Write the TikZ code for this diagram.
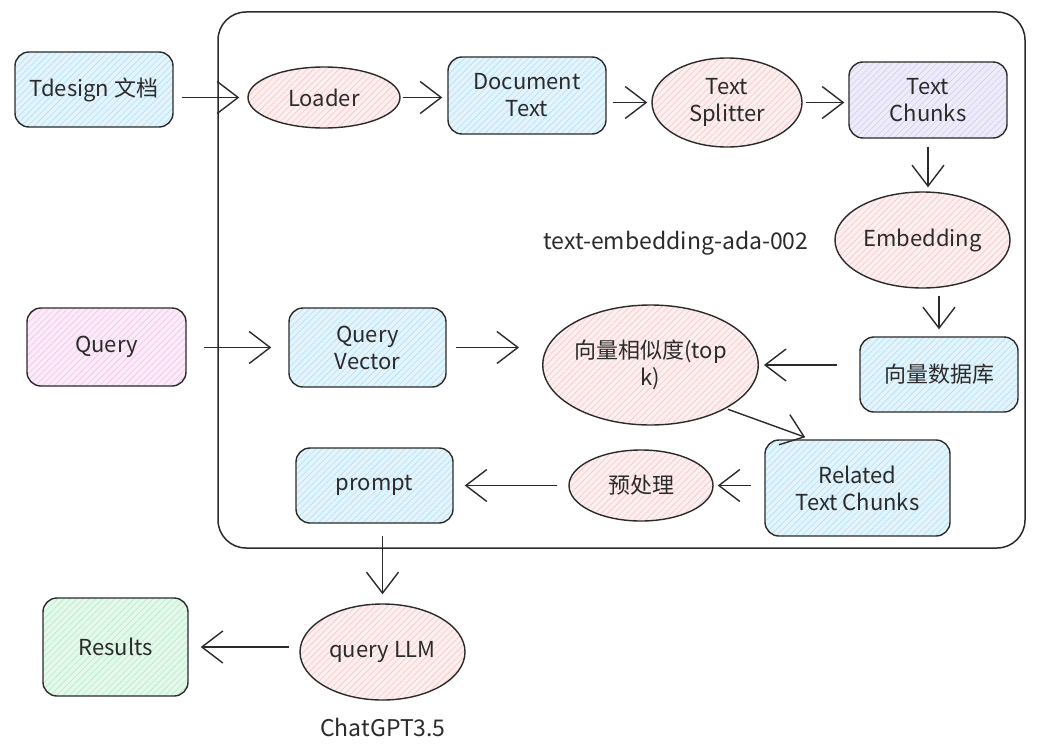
\documentclass[tikz,border=0pt]{standalone}
\usepackage{fontspec}
\setmainfont{Noto Sans CJK SC}
\usetikzlibrary{arrows.meta,shapes.geometric,patterns.meta,calc}
\definecolor{ink}{HTML}{2B2B2B}
\definecolor{bluef}{HTML}{E4F4FC}\definecolor{blueh}{HTML}{B3DFF4}
\definecolor{pinkf}{HTML}{FDEFEF}\definecolor{pinkh}{HTML}{F6C8C8}
\definecolor{purpf}{HTML}{EFECFA}\definecolor{purph}{HTML}{D3CBF2}
\definecolor{magf}{HTML}{FBEAF8}\definecolor{magh}{HTML}{F0C4EA}
\definecolor{greenf}{HTML}{E4F8EB}\definecolor{greenh}{HTML}{B6EAC6}
\tikzset{
  base/.style={draw=ink, line width=1.4pt, text=ink, align=center, inner sep=0pt,
    font=\fontsize{22}{27}\selectfont},
  hatch/.style 2 args={preaction={fill=#1}, pattern={Lines[angle=45,distance=4.5pt,line width=0.6pt]}, pattern color=#2},
  box/.style={base, rectangle, rounded corners=14pt},
  oval/.style={base, ellipse, hatch={pinkf}{pinkh}},
  bluebox/.style={box, hatch={bluef}{blueh}},
  arr/.style={draw=ink, line width=1.4pt, -{Straight Barb[length=21pt,width=32pt,line width=1.4pt]}},
  lbl/.style={text=ink, font=\fontsize{23}{27}\selectfont, inner sep=0pt}
}
\begin{document}
\begin{tikzpicture}[x=1pt,y=-1pt]
\useasboundingbox[fill=white] (0,0) rectangle (1048,752);
% frame
\node[draw=ink, line width=1.5pt, rounded corners=28pt, minimum width=807pt, minimum height=536pt, inner sep=0pt] (frame) at (621.5,280) {};
% nodes
\node[bluebox, minimum width=158pt, minimum height=75pt] (tdesign) at (94,89.5) {Tdesign 文档};
\node[oval, minimum width=152pt, minimum height=61pt] (loader) at (324,97.5) {Loader};
\node[bluebox, minimum width=158pt, minimum height=77pt] (doc) at (527,95.5) {Document\\Text};
\node[oval, minimum width=150pt, minimum height=89pt] (splitter) at (727,102.5) {Text\\Splitter};
\node[box, hatch={purpf}{purph}, minimum width=158pt, minimum height=76pt] (chunks) at (928,100) {Text\\Chunks};
\node[oval, minimum width=175pt, minimum height=96pt] (embed) at (922.5,240) {Embedding};
\node[lbl] (emblabel) at (676,243) {text-embedding-ada-002};
\node[bluebox, minimum width=158pt, minimum height=75pt] (db) at (939,374.5) {向量数据库};
\node[oval, minimum width=185pt, minimum height=120pt] (sim) at (650.5,365) {向量相似度(top\\k)};
\node[box, hatch={magf}{magh}, minimum width=159pt, minimum height=78pt] (query) at (106.5,347) {Query};
\node[bluebox, minimum width=157pt, minimum height=79pt] (qv) at (367.5,347.5) {Query\\Vector};
\node[bluebox, minimum width=185pt, minimum height=96pt] (related) at (857.5,488) {Related\\Text Chunks};
\node[oval, minimum width=144pt, minimum height=71pt] (pre) at (641,485.5) {预处理};
\node[bluebox, minimum width=157pt, minimum height=75pt] (prompt) at (374.5,485.5) {prompt};
\node[oval, minimum width=165pt, minimum height=96pt] (llm) at (382.5,652) {query LLM};
\node[box, hatch={greenf}{greenh}, minimum width=145pt, minimum height=98pt] (results) at (115.5,647) {Results};
\node[lbl] (gptlabel) at (383,727) {ChatGPT3.5};
% connectors
\draw[arr, shorten <=9pt, shorten >=8pt] (tdesign.east|-loader) -- (loader.west);
\draw[arr, shorten <=2pt, shorten >=5pt] (loader.east) -- (loader.east-|doc.west);
\draw[arr, shorten <=6pt, shorten >=4pt] (doc.east|-splitter) -- (splitter.west);
\draw[arr, shorten <=3pt, shorten >=4pt] (splitter.east) -- (splitter.east-|chunks.west);
\draw[arr, shorten <=8pt, shorten >=4pt] (chunks.south) -- (chunks.south|-embed.north);
\draw[arr, shorten <=7pt, shorten >=7pt] (embed.south-|db) -- (db.north);
\draw[arr, shorten <=22pt, shorten >=5pt] (db.west|-sim) -- (sim.east);
\draw[arr, shorten <=17pt, shorten >=17pt] (query.east|-qv) -- (qv.west);
\draw[arr, shorten <=9pt, shorten >=23pt] (qv.east) -- (qv.east-|sim.west);
\draw[arr, shorten <=2pt, shorten >=6pt] (sim.-30) -- ($(related.north west)!0.25!(related.north east)$);
\draw[arr, shorten <=13pt, shorten >=4pt] (related.west|-pre) -- (pre.east);
\draw[arr, shorten <=11pt, shorten >=11pt] (pre.west) -- (pre.west-|prompt.east);
\draw[arr, shorten <=12pt, shorten >=9pt] (prompt.south-|llm) -- (llm.north);
\draw[arr, shorten <=10pt, shorten >=12pt] (llm.west|-results) -- (results.east);
\end{tikzpicture}
\end{document}
